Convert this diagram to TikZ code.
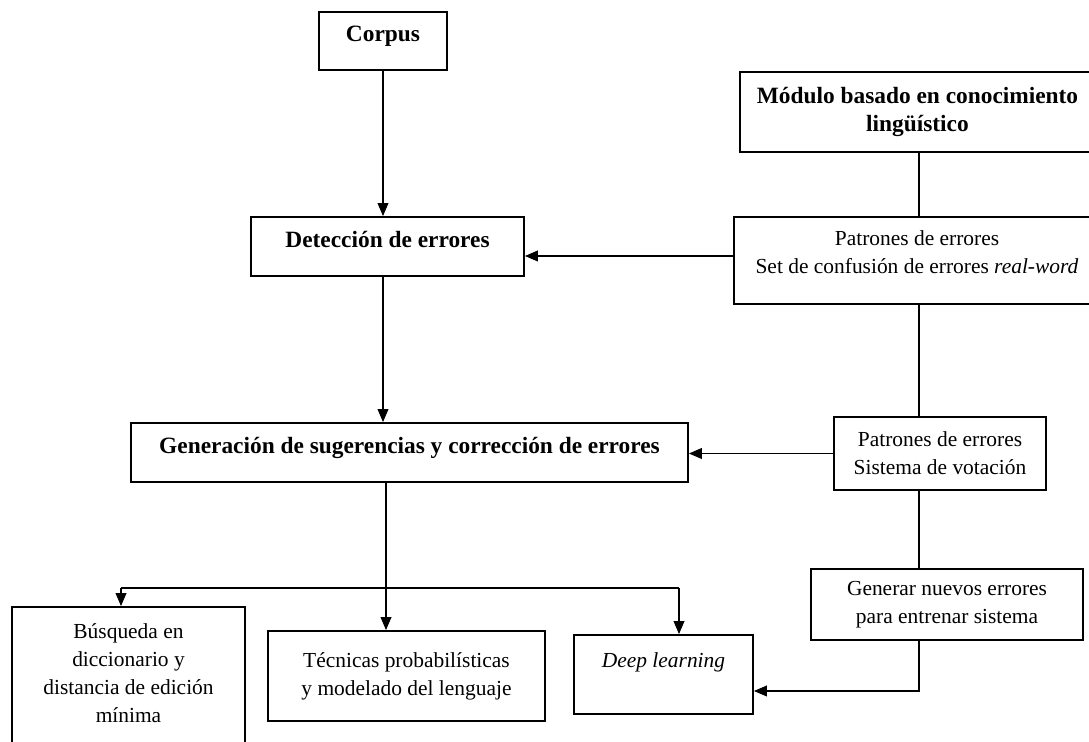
\documentclass[tikz,border=0pt]{standalone}
\usepackage{fontspec}
\setmainfont{Liberation Serif}
\usepackage{tikz}
\usetikzlibrary{arrows.meta}
\tikzset{
	boldbox/.style={
		% The shape:
		rectangle,
		% The border:
		draw=black, line width=1.1pt,
		% The text:
		font=\fontsize{13.3}{15.5}\selectfont\bfseries, align=center,
	}}
\tikzset{
	plainbox/.style={
		% The shape:
		rectangle,
		% The border:
		draw=black, line width=1.1pt,
		% The text:
		font=\fontsize{12.2}{16}\selectfont, align=center,
	}}
\tikzset{link/.style={line width=0.6pt}}

\begin{document}
\begin{tikzpicture}[x=0.02cm,y=-0.02cm,>={Triangle[length=7.4pt,width=6.2pt]}]
	\useasboundingbox (0,0) rectangle (1089,742);
	\clip (0,0) rectangle (1089,742);
	% left column
	\node[boldbox,minimum width=2.56cm,minimum height=1.16cm,text depth=8pt] (corpus) at (383,41) {Corpus};
	\node[boldbox,minimum width=5.46cm,minimum height=1.18cm,text depth=8pt] (deteccion) at (387.5,246.5) {Detección de errores};
	\node[boldbox,minimum width=11.14cm,minimum height=1.18cm,text depth=8.6pt] (generacion) at (409.5,452.5) {Generación de sugerencias y corrección de errores};
	% right column
	\node[boldbox,minimum width=7.1cm,minimum height=1.6cm] (modulo) at (917.5,112) {Módulo basado en conocimiento\\lingüístico};
	\node[plainbox,minimum width=7.32cm,minimum height=1.74cm,text depth=10pt] (patrones1) at (917,260.5) {Patrones de errores\\Set de confusión de errores \textit{real-word}};
	\node[plainbox,minimum width=4.24cm,minimum height=1.46cm] (patrones2) at (940,453.5) {Patrones de errores\\Sistema de votación};
	\node[plainbox,minimum width=5.44cm,minimum height=1.42cm] (generar) at (947,604.5) {Generar nuevos errores\\para entrenar sistema};
	% bottom row
	\node[plainbox,minimum width=4.66cm,minimum height=3.06cm,text depth=12pt] (busqueda) at (128.5,683.5) {Búsqueda en\\diccionario y\\distancia de edición\\mínima};
	\node[plainbox,minimum width=5.54cm,minimum height=1.8cm] (tecnicas) at (406.5,676) {Técnicas probabilísticas\\y modelado del lenguaje};
	\node[plainbox,minimum width=3.58cm,minimum height=1.58cm,text depth=17pt] (deep) at (663.5,674.5) {\textit{Deep learning}};
	\coordinate (spine) at (919,0);
	\coordinate (split) at (386,588);
	\coordinate (left) at (121,588);
	\coordinate (right) at (679,588);
	% connectors
	\draw[link,->] (corpus.south) -- (corpus.south |- deteccion.north);
	\draw[link,->] (corpus.south |- deteccion.south) -- (corpus.south |- generacion.north);
	\draw[link] (spine |- modulo.south) -- (spine |- patrones1.north);
	\draw[link,->] ([yshift=0.09cm]patrones1.west) -- ([yshift=0.09cm]patrones1.west -| deteccion.east);
	\draw[link] (spine |- patrones1.south) -- (spine |- patrones2.north);
	\draw[link,->] (patrones2.west) -- (patrones2.west -| generacion.east);
	\draw[link] (spine |- patrones2.south) -- (spine |- generar.north);
	\draw[link,->] (spine |- generar.south) |- ([yshift=-0.33cm]deep.east);
	\draw[link] (split |- generacion.south) -- (split);
	\draw[link] (left) -- (right);
	\draw[link,->] (left) -- (left |- busqueda.north);
	\draw[link,->] (split) -- (split |- tecnicas.north);
	\draw[link,->] (right) -- (right |- deep.north);
\end{tikzpicture}
\end{document}
